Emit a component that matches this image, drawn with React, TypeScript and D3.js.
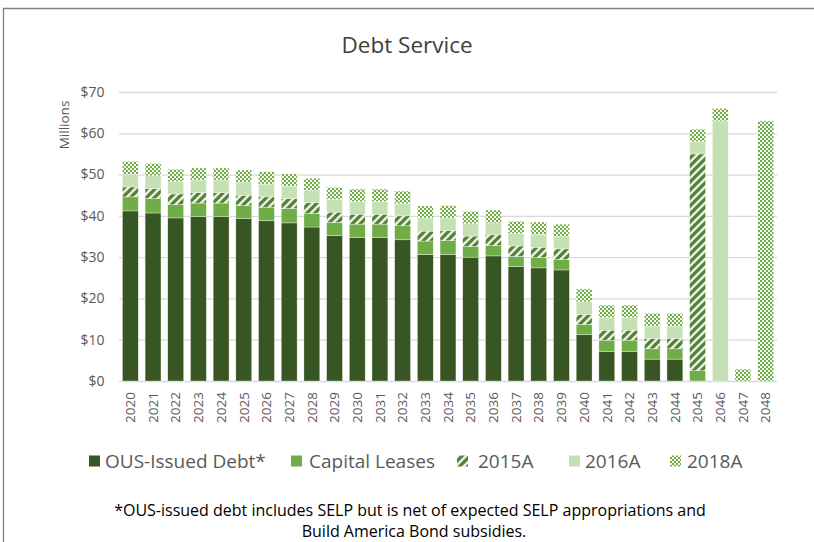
import React from "react";
import * as d3 from "d3";

const years = ["2020","2021","2022","2023","2024","2025","2026","2027","2028","2029","2030","2031","2032","2033","2034","2035","2036","2037","2038","2039","2040","2041","2042","2043","2044","2045","2046","2047","2048"];
const ousDebt = [41.2,40.7,39.5,39.8,39.8,39.3,38.8,38.3,37.3,35.2,34.7,34.7,34.2,30.6,30.6,30.0,30.3,27.7,27.4,26.9,11.2,7.2,7.2,5.3,5.3,0,0,0,0];
const capitalLeases = [3.4,3.5,3.2,3.3,3.3,3.2,3.3,3.5,3.3,3.2,3.3,3.3,3.4,3.3,3.4,2.6,2.5,2.5,2.5,2.5,2.5,2.7,2.7,2.5,2.5,2.5,0,0,0];
const s2015A = [2.4,2.4,2.6,2.5,2.5,2.5,2.5,2.4,2.6,2.5,2.4,2.4,2.4,2.4,2.4,2.5,2.6,2.5,2.5,2.6,2.4,2.4,2.4,2.5,2.5,52.5,0,0,0];
const s2016A = [3.0,3.1,3.0,3.1,3.1,3.2,3.1,3.0,2.9,3.1,3.1,3.1,3.0,3.2,3.1,3.0,2.9,3.0,3.1,3.0,3.1,3.1,3.1,3.0,3.0,3.0,63.0,0,0];
const s2018A = [3.2,3.0,3.0,2.9,2.9,2.9,3.0,3.0,3.0,2.9,3.0,3.0,3.0,2.9,3.0,3.0,3.1,3.0,3.0,3.0,3.1,3.0,3.0,3.1,3.1,3.0,3.0,2.9,63.0];
const seriesNames = ["OUS-Issued Debt*","Capital Leases","2015A","2016A","2018A"];
const yTicks = [0,10,20,30,40,50,60,70];

const fills = ["#375623","#70AD47","url(#p2015)","#C5E0B4","url(#p2018)"];
const FONT = "'Open Sans', 'Liberation Sans', sans-serif";

export default function App() {
  const W = 814, H = 542;
  const x = d3.scaleBand<string>().domain(years).range([119, 777]).paddingInner(0.3).paddingOuter(0.15);
  const y = d3.scaleLinear().domain([0, 70]).range([381, 92]);
  const rows = years.map((yr, i) => ({
    year: yr,
    k0: ousDebt[i], k1: capitalLeases[i], k2: s2015A[i], k3: s2016A[i], k4: s2018A[i],
  }));
  const stack = d3.stack<any>().keys(["k0","k1","k2","k3","k4"])(rows);

  const legendX = [89, 291, 457, 569, 670];
  const legendGap = [16, 18, 21, 16, 17];

  return (
    <svg width={W} height={H} style={{ position: "absolute", left: 0, top: 0, fontFamily: FONT }}>
      <defs>
        <pattern id="p2015" patternUnits="userSpaceOnUse" width="8" height="8">
          <rect width="8" height="8" fill="#E8F2E1" />
          <path d="M0,8 L8,0 M-2,2 L2,-2 M6,10 L10,6" stroke="#548235" strokeWidth="3.2" />
        </pattern>
        <pattern id="p2018" patternUnits="userSpaceOnUse" width="4" height="4">
          <rect width="4" height="4" fill="#F2F8EE" />
          <rect x="0" y="0" width="2" height="2" fill="#70AD47" />
          <rect x="2" y="2" width="2" height="2" fill="#70AD47" />
        </pattern>
      </defs>
      <rect x={0} y={0} width={W} height={H} fill="#fff" />
      <path d="M3.5,542 L3.5,8.5 L814,8.5" fill="none" stroke="#7f7f7f" strokeWidth={1.3} />

      <text x={407} y={53} textAnchor="middle" fontSize={22.5} fill="#404040">Debt Service</text>

      {yTicks.map((t) => (
        <g key={t}>
          <line x1={119} x2={777} y1={y(t) + 0.5} y2={y(t) + 0.5} stroke="#d9d9d9" strokeWidth={1.3} />
          <text x={104.5} y={y(t)} dy="0.35em" textAnchor="end" fontSize={14} fill="#595959">{"$" + t}</text>
        </g>
      ))}
      <text transform={`translate(64,125) rotate(-90)`} textAnchor="middle" dy="0.35em" fontSize={13.5} fill="#595959">Millions</text>

      {stack.map((s, si) => (
        <g key={si} fill={fills[si]}>
          {s.map((d, i) => {
            const h = y(d[0]) - y(d[1]);
            if (h <= 0.01) return null;
            return (
              <rect key={i} x={x(years[i])} y={y(d[1])} width={x.bandwidth()} height={h}
                stroke="#ffffff" strokeWidth={0.5} strokeOpacity={0.7} />
            );
          })}
        </g>
      ))}

      {years.map((yr) => (
        <text key={yr} transform={`translate(${(x(yr) as number) + x.bandwidth() / 2},392) rotate(-90)`}
          textAnchor="end" dy="0.35em" fontSize={13.5} fill="#595959">{yr}</text>
      ))}

      {seriesNames.map((n, i) => (
        <g key={n} transform={`translate(${legendX[i]},461)`}>
          <rect x={0} y={-5.5} width={11} height={11} fill={fills[i]} />
          <text x={legendGap[i]} y={0} dy="0.35em" fontSize={19} fill="#595959">{n}</text>
        </g>
      ))}

      <text x={410} y={510} textAnchor="middle" dy="0.35em" fontSize={16} fill="#000">*OUS-issued debt includes SELP but is net of expected SELP appropriations and</text>
      <text x={414} y={531} textAnchor="middle" dy="0.35em" fontSize={16} fill="#000">Build America Bond subsidies.</text>
    </svg>
  );
}
